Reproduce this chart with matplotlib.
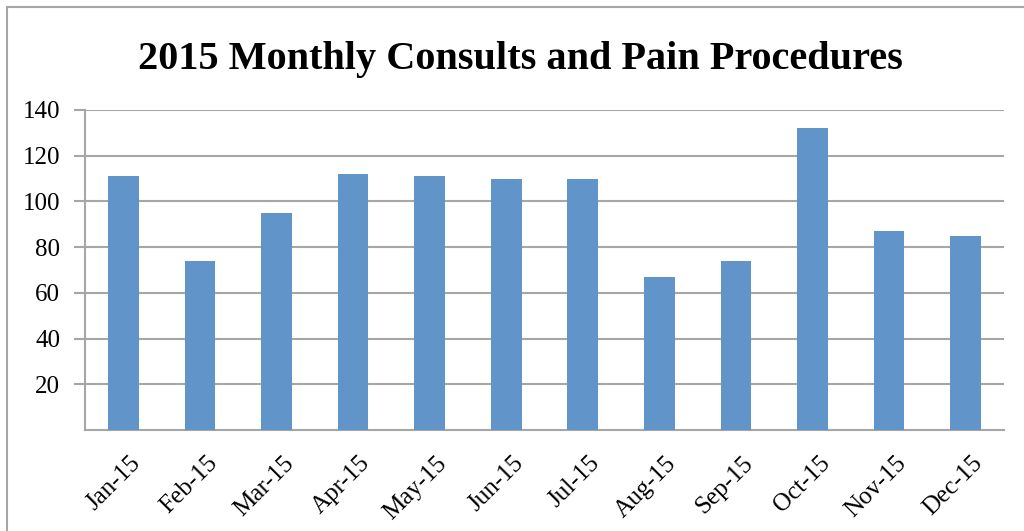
import numpy as np
import matplotlib.pyplot as plt
from matplotlib.patches import Rectangle

months = ["Jan-15", "Feb-15", "Mar-15", "Apr-15", "May-15", "Jun-15",
          "Jul-15", "Aug-15", "Sep-15", "Oct-15", "Nov-15", "Dec-15"]
counts = [111, 74, 95, 112, 111, 110, 110, 67, 74, 132, 87, 85]
y_ticks = [20, 40, 60, 80, 100, 120, 140]

grey = "#a6a6a6"
bar_color = "#6195c9"

fig = plt.figure(figsize=(10.24, 5.31), dpi=100)
ax = fig.add_axes([85 / 1024, 101 / 531, 919 / 1024, 320 / 531])

x = np.arange(len(months))
ax.bar(x, counts, width=0.4, color=bar_color, zorder=3)

ax.set_xlim(-0.5, len(months) - 0.5)
ax.set_ylim(0, 140)
ax.set_yticks(y_ticks)
ax.set_yticklabels([str(v) for v in y_ticks], fontsize=18, family="Liberation Serif")
ax.set_xticks(x + 0.08)
ax.set_xticklabels(months, rotation=45, ha="right", rotation_mode="anchor",
                   fontsize=18, family="Liberation Serif")

ax.grid(True, axis="y", color=grey, linewidth=1.5, zorder=0)
ax.tick_params(axis="y", length=8, color=grey, width=1.5, pad=10)
ax.tick_params(axis="x", length=0, pad=16)
for side in ["top", "right"]:
    ax.spines[side].set_visible(False)
for side in ["left", "bottom"]:
    ax.spines[side].set_color(grey)
    ax.spines[side].set_linewidth(1.5)

fig.text(520 / 1024, 1 - 60 / 531, "2015 Monthly Consults and Pain Procedures",
         ha="center", va="center", fontsize=29, fontweight="bold",
         family="Liberation Serif")

fig.patches.append(Rectangle((7 / 1024, -0.1), 1.2, 1.1 - 7 / 531,
                             transform=fig.transFigure, fill=False,
                             edgecolor=grey, linewidth=1.5))

fig.savefig("out.png", dpi=100)
